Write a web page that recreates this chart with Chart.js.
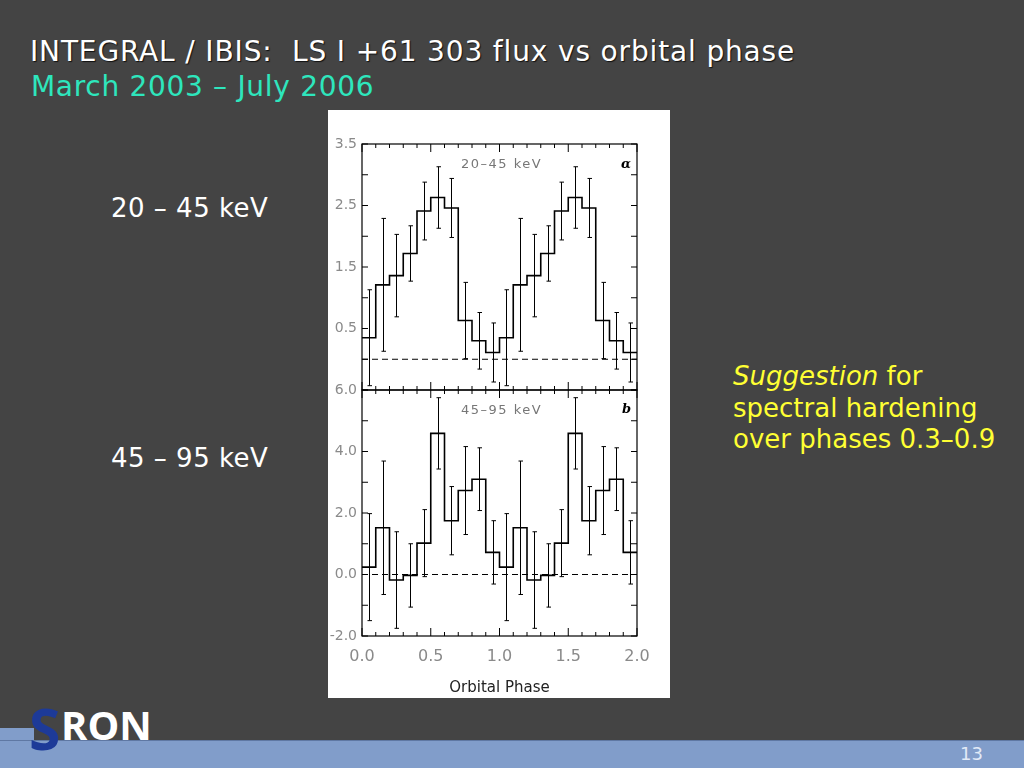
<!DOCTYPE html>
<html>
<head>
<meta charset="utf-8">
<script src="https://cdn.jsdelivr.net/npm/chart.js@4"></script>
<style>
  body { margin:0; width:1024px; height:768px; background:#444444; overflow:hidden; position:relative;
         font-family:"DejaVu Sans", Verdana, sans-serif; }
  .t { position:absolute; white-space:nowrap; }
  #title { left:30px; top:35px; font-size:28px; color:#fff; text-shadow:1px 1px 1px #111; letter-spacing:0.85px; }
  #sub { left:31px; top:70px; font-size:28px; color:#2ee6bd; letter-spacing:0.7px; }
  .band { left:111px; font-size:26px; color:#fff; letter-spacing:0.5px; }
  #note { left:733px; top:361px; font-size:26px; color:#ffff33; line-height:31.5px; }
  #box { position:absolute; left:328px; top:110px; width:342px; height:588px; background:#fff; }
  #c1 { position:absolute; left:328px; top:110px; }
  #c2 { position:absolute; left:328px; top:380px; }
  .lbl { font-size:13px; color:#777; letter-spacing:1.5px; }
  .pan { font-size:13px; font-weight:bold; font-style:italic; color:#000; font-family:"DejaVu Serif", serif; }
  #bar { position:absolute; left:0; top:740px; width:1024px; height:28px; background:#819dca; border-top:1px solid #5f78a3; }
  #barl { position:absolute; left:0; top:728px; width:34px; height:13px; background:#819dca; }
  #logoS { left:29px; top:689px; font-size:57px; font-weight:bold; color:#1d3a98; font-family:"Open Sans", sans-serif; }
  #logoR { left:61px; top:697px; font-size:40px; font-weight:bold; color:#fff; font-family:"Open Sans", sans-serif; }
  #page { left:960px; top:743px; font-size:18px; color:#e2eaf7; }
</style>
</head>
<body>
<div class="t" id="title">INTEGRAL / IBIS:&nbsp; LS I +61 303 flux vs orbital phase</div>
<div class="t" id="sub">March 2003 – July 2006</div>
<div class="t band" style="top:193px;">20 – 45 keV</div>
<div class="t band" style="top:443px;">45 – 95 keV</div>
<div class="t" id="note"><i>Suggestion</i> for<br>spectral hardening<br>over phases 0.3–0.9</div>

<div id="box"></div>
<canvas id="c1" width="342" height="281"></canvas>
<canvas id="c2" width="342" height="318"></canvas>
<div class="t lbl" style="left:461px; top:156px;">20–45 keV</div>
<div class="t pan" style="left:621px; top:156px;">α</div>
<div class="t lbl" style="left:461px; top:402px;">45–95 keV</div>
<div class="t pan" style="left:622px; top:401px;">b</div>

<div id="barl"></div>
<div id="bar"></div>
<div class="t" id="logoR">RON</div>
<div class="t" id="logoS">S</div>
<div class="t" id="page">13</div>

<script>
// one orbit, bin left edges (the figure shows two cycles)
var phaseBins = [0.0, 0.1, 0.2, 0.3, 0.4, 0.5, 0.6, 0.7, 0.8, 0.9];
var binWidth = 0.1;

// 20-45 keV flux and 1-sigma errors
var soft    = [0.35, 1.21, 1.36, 1.72, 2.41, 2.63, 2.46, 0.63, 0.30, 0.11];
var softErr = [0.78, 1.08, 0.67, 0.45, 0.47, 0.50, 0.48, 0.62, 0.46, 0.48];

// 45-95 keV flux and 1-sigma errors
var hard    = [0.24, 1.52, -0.18, -0.03, 1.02, 4.59, 1.75, 2.73, 3.10, 0.72];
var hardErr = [1.74, 2.17, 1.57, 1.03, 1.09, 1.16, 1.11, 1.43, 1.02, 1.03];

var xTicks = [0.0, 0.5, 1.0, 1.5, 2.0];
var softTicks = [0.5, 1.5, 2.5, 3.5];
var hardTicks = [-2.0, 0.0, 2.0, 4.0, 6.0];

function histPoints(vals) {
  var pts = [];
  for (var c = 0; c < 2; c++) {
    phaseBins.forEach(function (p, i) { pts.push({ x: c + p, y: vals[i] }); });
  }
  pts.push({ x: 2.0, y: vals[vals.length - 1] });
  return pts;
}

var errorBars = {
  id: 'errorBars',
  afterDatasetsDraw: function (chart) {
    var ctx = chart.ctx, xs = chart.scales.x, ys = chart.scales.y;
    chart.data.datasets.forEach(function (ds) {
      if (!ds.errors) return;
      ctx.save();
      ctx.strokeStyle = '#000';
      ctx.lineWidth = 1;
      ctx.beginPath();
      ds.errors.forEach(function (e, i) {
        var p = ds.data[i];
        var px = Math.round(xs.getPixelForValue(p.x + binWidth / 2)) + 0.5;
        var top = ys.getPixelForValue(p.y + e), bot = ys.getPixelForValue(p.y - e);
        ctx.moveTo(px, top); ctx.lineTo(px, bot);
        ctx.moveTo(px - 2, top); ctx.lineTo(px + 2.5, top);
        ctx.moveTo(px - 2, bot); ctx.lineTo(px + 2.5, bot);
      });
      ctx.stroke();
      ctx.restore();
    });
  }
};

// IDL style frame with inward ticks on all four sides
var frame = {
  id: 'frame',
  afterDatasetsDraw: function (chart, args, opts) {
    var ctx = chart.ctx, a = chart.chartArea, xs = chart.scales.x, ys = chart.scales.y;
    ctx.save();
    ctx.strokeStyle = '#000';
    ctx.lineWidth = 1.2;
    ctx.strokeRect(a.left, a.top, a.right - a.left, a.bottom - a.top);
    ctx.lineWidth = 1;
    ctx.beginPath();
    for (var k = 0; k <= 20; k++) {
      var px = xs.getPixelForValue(k * binWidth);
      var len = (k % 5 === 0) ? 8 : 4;
      ctx.moveTo(px, a.bottom); ctx.lineTo(px, a.bottom - len);
      ctx.moveTo(px, a.top); ctx.lineTo(px, a.top + len);
    }
    var n = Math.round((ys.max - ys.min) / opts.yStep);
    for (var j = 0; j <= n; j++) {
      var py = ys.getPixelForValue(ys.min + j * opts.yStep);
      ctx.moveTo(a.left, py); ctx.lineTo(a.left + 6, py);
      ctx.moveTo(a.right, py); ctx.lineTo(a.right - 6, py);
    }
    ctx.stroke();
    ctx.restore();
  }
};

function makeChart(id, vals, errs, yMin, yMax, yStep, yTicks, showX, padTop, padBottom) {
  return new Chart(document.getElementById(id), {
    type: 'line',
    data: {
      datasets: [{
        data: histPoints(vals),
        errors: errs.concat(errs),
        stepped: 'before',
        borderColor: '#000',
        borderWidth: 1.6,
        pointRadius: 0,
        fill: false
      }, {
        data: [{ x: 0, y: 0 }, { x: 2, y: 0 }],
        borderColor: '#000',
        borderWidth: 1,
        borderDash: [6, 4],
        pointRadius: 0,
        fill: false
      }]
    },
    options: {
      responsive: false,
      animation: false,
      devicePixelRatio: 1,
      layout: { autoPadding: false, padding: { left: 0, right: 33, top: padTop, bottom: padBottom } },
      plugins: { legend: { display: false }, tooltip: { enabled: false }, frame: { yStep: yStep } },
      scales: {
        x: {
          type: 'linear', min: 0, max: 2, display: showX,
          grid: { display: false, drawTicks: false, tickLength: 0 }, border: { display: false },
          afterBuildTicks: function (s) { s.ticks = xTicks.map(function (v) { return { value: v }; }); },
          afterFit: function (s) {
            s.height = showX ? 62 : 0;
            s.paddingLeft = 0; s.paddingRight = 0;
          },
          ticks: {
            padding: 11, color: '#8a8a8a', maxRotation: 0,
            font: { family: 'DejaVu Sans', size: 16 },
            callback: function (v) { return v.toFixed(1); }
          },
          title: {
            display: showX, text: 'Orbital Phase', color: '#222',
            font: { family: 'DejaVu Sans', size: 15 }, padding: { top: 0, bottom: 1 }
          }
        },
        y: {
          min: yMin, max: yMax,
          grid: { display: false, drawTicks: false, tickLength: 0 }, border: { display: false },
          afterBuildTicks: function (s) { s.ticks = yTicks.map(function (v) { return { value: v }; }); },
          afterFit: function (s) {
            s.width = 34;
            s.paddingTop = 0; s.paddingBottom = 0;
          },
          ticks: {
            padding: 5, color: '#8a8a8a',
            font: { family: 'DejaVu Sans', size: 14 },
            callback: function (v) { return v.toFixed(1); }
          }
        }
      }
    },
    plugins: [errorBars, frame]
  });
}

makeChart('c1', soft, softErr, -0.5, 3.5, 0.5, softTicks, false, 34, 1);
makeChart('c2', hard, hardErr, -2.0, 6.0, 1.0, hardTicks, true, 10, 0);
</script>
</body>
</html>
